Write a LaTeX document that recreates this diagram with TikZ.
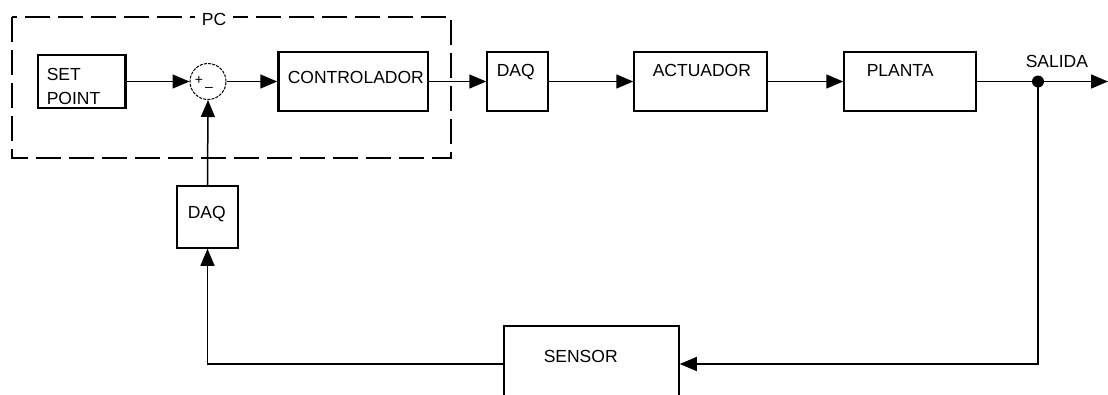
\documentclass[tikz,border=0pt]{standalone}
\usepackage{fontspec}
\setmainfont{Liberation Sans}
\usetikzlibrary{arrows.meta}
\begin{document}
\begin{tikzpicture}[x=1pt,y=-1pt,
  line width=1.5pt,
  box/.style={draw, rectangle, inner sep=0pt},
  lbl/.style={inner sep=0pt, anchor=base west, font=\fontsize{17.5}{20}\selectfont},
  arr/.style={-{Triangle[length=17pt,width=14pt]}},
  pcbox/.style={draw, line width=1.4pt, dash pattern=on 25pt off 8pt}]
\clip (0,0) rectangle (1108,394);
\useasboundingbox (0,0) rectangle (1108,394);
% PC dashed frame
\draw[pcbox] (12,17) rectangle (451,158);
\node[inner xsep=7pt, inner ysep=2pt, fill=white, anchor=base, font=\fontsize{17.5}{20}\selectfont] (pc) at (214,25) {PC};
% boxes
\node[box, minimum width=88pt, minimum height=53pt] (sp) at (82,81.5) {};
\draw[line width=3pt] ([xshift=-0.8pt]sp.north east) -- ([xshift=-0.8pt]sp.south east);
\node[box, circle, draw, line width=1pt, dash pattern=on 3pt off 1.2pt, minimum size=36pt] (sum) at (208,81.5) {};
\node[box, minimum width=150pt, minimum height=59pt] (ctrl) at (353,81.5) {};
\draw[line width=3pt] ([xshift=0.8pt]ctrl.north west) -- ([xshift=0.8pt]ctrl.south west);
\node[box, minimum width=61pt, minimum height=59pt] (daq1) at (517.5,81.5) {};
\node[box, minimum width=133pt, minimum height=59pt] (act) at (700.5,81.5) {};
\node[box, minimum width=132pt, minimum height=59pt] (pla) at (910,81.5) {};
\node[box, minimum width=61pt, minimum height=62pt] (daq2) at (207.5,217) {};
\node[box, minimum width=175pt, minimum height=76pt] (sen) at (591.5,364) {};
\fill (1038,81.5) circle (6pt);
\coordinate (dot) at (1038,81.5);
\coordinate (out) at (1108,81.5);
% labels
\node[lbl] (t1) at (46,80) {SET};
\node[lbl] (t2) at (46,104) {POINT};
\node[lbl] (t3) at (287,83) {CONTROLADOR};
\node[lbl] (t4) at (496,76) {DAQ};
\node[lbl] (t5) at (652,76) {ACTUADOR};
\node[lbl] (t6) at (866,76) {PLANTA};
\node[lbl] (t7) at (1025,67) {SALIDA};
\node[lbl] (t8) at (187,218) {DAQ};
\node[lbl] (t9) at (543,362) {SENSOR};
\node[inner sep=0pt, font=\fontsize{14}{15}\selectfont] (plus) at (199,80) {+};
\node[inner sep=0pt, font=\fontsize{14}{15}\selectfont] (minus) at (209,89) {\textendash};
% connectors
\draw[arr] (sp.east) -- (sum.west);
\draw[arr] (sum.east) -- (ctrl.west);
\draw[arr] (ctrl.east) -- (daq1.west);
\draw[arr] (daq1.east) -- (act.west);
\draw[arr] (act.east) -- (pla.west);
\draw (pla.east) -- (dot);
\draw[arr] (dot) -- (out);
\draw[arr] (dot) |- (sen.east);
\draw[arr] (sen.west) -| (daq2.south);
\draw[arr] (daq2.north) -- (sum.south);
\end{tikzpicture}
\end{document}
